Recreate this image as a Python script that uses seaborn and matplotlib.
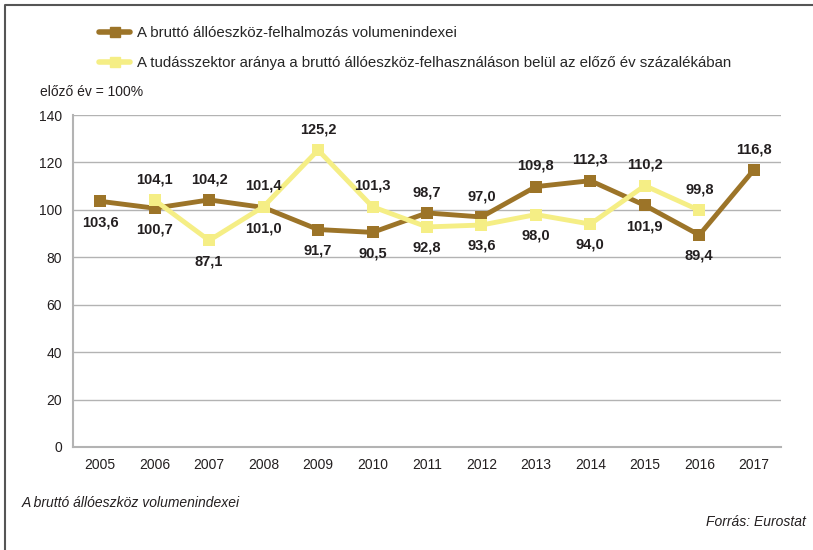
import numpy as np
import pandas as pd
import seaborn as sns
from matplotlib import pyplot as plt
from matplotlib.lines import Line2D

years = list(range(2005, 2018))
brutto = [103.6, 100.7, 104.2, 101.0, 91.7, 90.5, 98.7, 97.0, 109.8, 112.3, 101.9, 89.4, 116.8]
tudas = [np.nan, 104.1, 87.1, 101.4, 125.2, 101.3, 92.8, 93.6, 98.0, 94.0, 110.2, 99.8, np.nan]

name_b = 'A bruttó állóeszköz-felhalmozás volumenindexei'
name_t = 'A tudásszektor aránya a bruttó állóeszköz-felhasználáson belül az előző év százalékában'

# label placement: +1 above, -1 below
pos_b = [-1, -1, 1, -1, -1, -1, 1, 1, 1, 1, -1, -1, 1]
pos_t = [0, 1, -1, 1, 1, 1, -1, -1, -1, -1, 1, 1, 0]

brown = '#9c7428'
yellow = '#f5ee85'

sns.set_style('white')
plt.rcParams['font.family'] = ['Liberation Sans', 'DejaVu Sans']

df = pd.DataFrame({'year': years * 2,
                   'value': brutto + tudas,
                   'series': [name_b] * len(years) + [name_t] * len(years)})

fig = plt.figure(figsize=(8.13, 5.5), dpi=100)
ax = fig.add_axes([0.0898, 0.1873, 0.8708, 0.6036])

sns.lineplot(data=df, x='year', y='value', hue='series', style='series',
             palette={name_b: brown, name_t: yellow},
             markers={name_b: 's', name_t: 's'}, dashes=False,
             linewidth=3.5, markersize=8, markeredgewidth=0,
             legend=False, ax=ax, hue_order=[name_b, name_t])

for vals, pos in [(brutto, pos_b), (tudas, pos_t)]:
    for x, v, p in zip(years, vals, pos):
        if np.isnan(v):
            continue
        txt = f'{v:.1f}'.replace('.', ',')
        ax.annotate(txt, (x, v), xytext=(0, 15 * p), textcoords='offset points',
                    ha='center', va='center', fontsize=10.5, fontweight='bold',
                    color='#231f20')

ax.set_xlim(2004.5, 2017.5)
ax.set_ylim(0, 140)
ax.set_xticks(years)
ax.set_yticks(range(0, 141, 20))
ax.tick_params(axis='both', labelsize=10, colors='#231f20', length=0, pad=8)
ax.set_xlabel('')
ax.set_ylabel('')
ax.grid(axis='y', color='#b3b3b3', linewidth=1)
for s in ['top', 'right']:
    ax.spines[s].set_visible(False)
for s in ['left', 'bottom']:
    ax.spines[s].set_color('#b3b3b3')
    ax.spines[s].set_linewidth(1.5)

handles = [Line2D([], [], color=brown, lw=4, marker='s', ms=7),
           Line2D([], [], color=yellow, lw=4, marker='s', ms=7)]
fig.legend(handles, [name_b, name_t], loc='upper left', bbox_to_anchor=(0.105, 0.977),
           frameon=False, fontsize=10.8, handlelength=2.1, labelspacing=1.05,
           handletextpad=0.45)

fig.text(40 / 813, 1 - 92 / 550, 'előző év = 100%', fontsize=10, va='center', color='#231f20')
fig.text(22 / 813, 1 - 503 / 550, 'A bruttó állóeszköz volumenindexei', fontsize=10,
         style='italic', va='center', color='#231f20')
fig.text(806 / 813, 1 - 522 / 550, 'Forrás: Eurostat', fontsize=10, style='italic',
         ha='right', va='center', color='#231f20')

fig.add_artist(Line2D([5 / 813, 5 / 813, 1], [0, 1 - 5 / 550, 1 - 5 / 550],
                      color='#555555', lw=1.5, transform=fig.transFigure))

fig.savefig('out.png', dpi=100)
